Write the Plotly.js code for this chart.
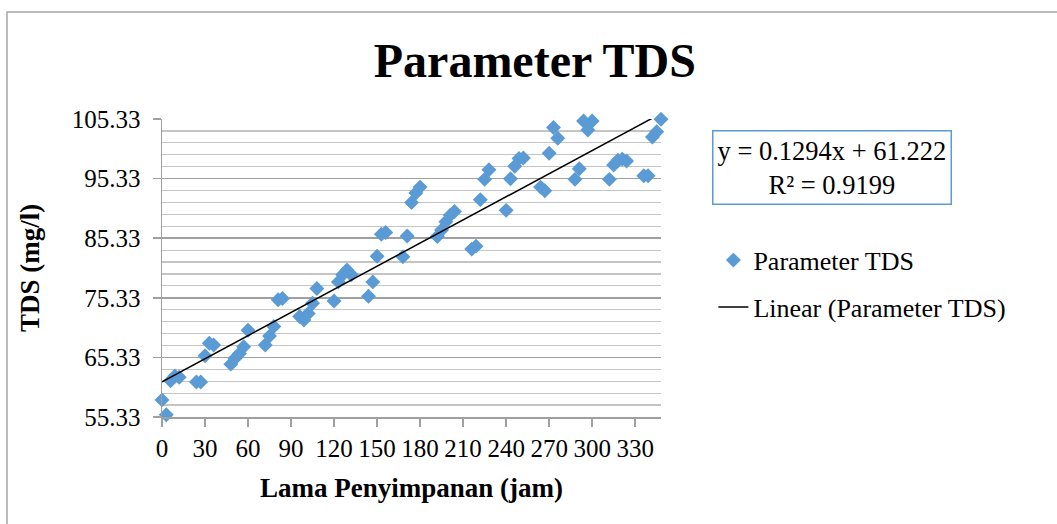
<!DOCTYPE html>
<html>
<head>
<meta charset="utf-8">
<script src="https://cdn.plot.ly/plotly-3.0.1.min.js"></script>
<style>html,body{margin:0;padding:0;background:#fff;}#chart{width:1057px;height:524px;}</style>
</head>
<body>
<div id="chart"></div>
<script>
// Storage time (hours)
const hours = [0,3,6,9,12, 24,27,30,33,36, 48,51,54,57,60, 72,75,78,81,84,
  96,99,102,105,108, 120,123,126,129,132, 144,147,150,153,156, 168,171,174,177,180,
  192,195,198,201,204, 216,219,222,225,228, 240,243,246,249,252, 264,267,270,273,276,
  288,291,294,297,300, 312,315,318,321,324, 336,339,342,345,348];
// TDS (mg/l)
const tds = [58.2,55.7,61.4,62.2,62.0, 61.2,61.2,65.6,67.7,67.4, 64.2,65.2,66.0,67.1,69.9,
  67.4,68.9,70.5,75.0,75.2, 72.2,71.6,72.7,74.4,76.9, 74.8,78.0,79.2,80.0,79.2,
  75.6,78.0,82.3,86.0,86.3, 82.2,85.7,91.3,92.9,93.9, 85.6,86.7,88.1,89.2,89.8,
  83.5,84.0,91.8,95.2,96.8, 90.0,95.3,97.4,98.7,98.8, 93.9,93.3,99.6,103.9,102.1,
  95.2,97.0,105.0,103.5,105.0, 95.2,97.6,98.4,98.6,98.3, 95.8,95.8,102.3,103.2,105.3];
// Trendline coefficients as printed on the chart
const slope = 0.1294;
const intercept = 61.222;
const rSquared = 0.9199;
const yTicks = [55.33, 65.33, 75.33, 85.33, 95.33, 105.33];
const xTicks = [0,30,60,90,120,150,180,210,240,270,300,330];

const xMin = Math.min(...hours), xMax = Math.max(...hours);
const trendX = [xMin, xMax];
const trendY = trendX.map(v => slope * v + intercept);

const serif = '"Times New Roman", "Liberation Serif", serif';
const blue = '#5b9bd5';

const traces = [
  {
    x: hours, y: tds, type: 'scatter', mode: 'markers', name: 'Parameter TDS',
    legendgroup: 'a',
    marker: {symbol: 'diamond', size: 11.5, color: blue},
    cliponaxis: false
  },
  {
    x: trendX, y: trendY, type: 'scatter', mode: 'lines', name: 'Linear (Parameter TDS)',
    legendgroup: 'b',
    line: {color: '#000000', width: 1.5}
  }
];

const layout = {
  width: 1057, height: 524,
  margin: {l: 162, r: 396, t: 119, b: 107},
  paper_bgcolor: '#ffffff', plot_bgcolor: '#ffffff',
  font: {family: serif, size: 25, color: '#000'},
  title: {
    text: 'Parameter TDS', x: 0.506, xref: 'container', xanchor: 'center',
    y: 0.885, yref: 'container', yanchor: 'middle',
    font: {family: serif, size: 48, weight: 'bold', color: '#000'}
  },
  xaxis: {
    range: [0, 348], tickmode: 'array', tickvals: xTicks, ticktext: xTicks.map(String),
    showgrid: false, zeroline: false,
    showline: true, linecolor: '#a0a0a0', linewidth: 1.5,
    ticks: 'outside', ticklen: 8, tickcolor: '#a0a0a0', tickwidth: 1.5,
    tickfont: {family: serif, size: 25, color: '#000'},
    title: {text: 'Lama Penyimpanan (jam)', standoff: 17,
      font: {family: serif, size: 27, weight: 'bold', color: '#000'}}
  },
  yaxis: {
    range: [55.33, 105.33], tickmode: 'array', tickvals: yTicks, ticktext: yTicks.map(v => v.toFixed(2)),
    showgrid: true, gridcolor: '#a0a0a0', gridwidth: 1.5, zeroline: false,
    showline: true, linecolor: '#a0a0a0', linewidth: 1.5,
    ticks: 'outside', ticklen: 8, tickcolor: '#a0a0a0', tickwidth: 1.5,
    ticklabelstandoff: 7,
    tickfont: {family: serif, size: 25, color: '#000'},
    minor: {tick0: 55.33, dtick: 2, showgrid: true, gridcolor: '#c4c4c4', gridwidth: 1.2, ticks: ''},
    title: {text: 'TDS (mg/l)', standoff: 24,
      font: {family: serif, size: 27, weight: 'bold', color: '#000'}}
  },
  showlegend: true,
  legend: {
    x: 1.105, xanchor: 'left', y: 0.605, yanchor: 'top',
    traceorder: 'grouped', tracegroupgap: 10,
    font: {family: serif, size: 26, color: '#000'},
    bgcolor: 'rgba(0,0,0,0)', borderwidth: 0
  },
  annotations: [{
    xref: 'paper', yref: 'paper', x: 1.3427, y: 0.837, xanchor: 'center', yanchor: 'middle',
    text: 'y = ' + slope + 'x + ' + intercept + '<br>R² = ' + rSquared,
    showarrow: false, align: 'center',
    font: {family: serif, size: 26.5, color: '#000'},
    bordercolor: blue, borderwidth: 1.5, borderpad: 4, bgcolor: '#ffffff'
  }],
  shapes: [{
    type: 'rect', xref: 'paper', yref: 'paper', layer: 'below',
    x0: -0.3106, x1: 1.80, y0: -0.38, y1: 1.359,
    line: {color: '#a6a6a6', width: 1.5}, fillcolor: 'rgba(0,0,0,0)'
  }]
};

Plotly.newPlot('chart', traces, layout, {displayModeBar: false, staticPlot: true});
</script>
</body>
</html>
